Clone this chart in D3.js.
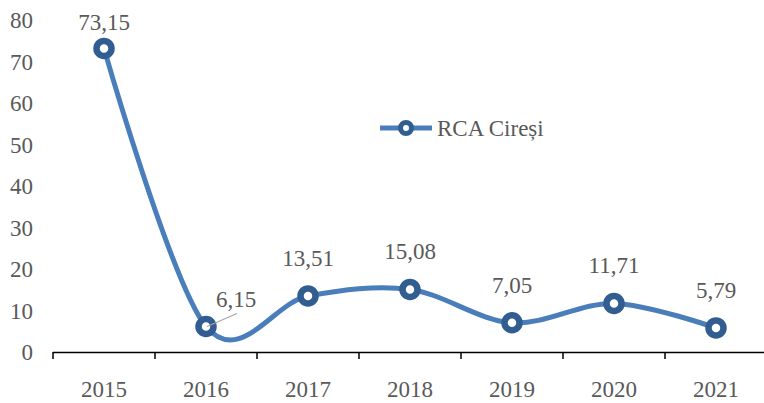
<!DOCTYPE html>
<html>
<head>
<meta charset="utf-8">
<script src="https://cdn.jsdelivr.net/npm/d3@7"></script>
<style>
	body { margin: 0; background: #fff; }
</style>
</head>
<body>
<div id="chart"></div>
<script>
const years = ['2015', '2016', '2017', '2018', '2019', '2020', '2021']
const rcaCiresi = [73.15, 6.15, 13.51, 15.08, 7.05, 11.71, 5.79]
const yTicks = [0, 10, 20, 30, 40, 50, 60, 70, 80]
const seriesName = 'RCA Cireși'

const width = 764
const height = 403
const fontSize = 23
const textColor = '#595959'
const lineColor = '#4a7ebb'
const markerColor = '#325d91'

const svg = d3.select('#chart').append('svg')
	.attr('width', width)
	.attr('height', height)
	.attr('font-family', "'Liberation Serif', 'Times New Roman', 'DejaVu Serif', serif")
	.attr('font-size', fontSize)
	.attr('fill', textColor)

const x = d3.scaleBand()
	.domain(years)
	.range([53, 767])

const y = d3.scaleLinear()
	.domain([0, 80])
	.range([352, 20])

const cx = d => x(d) + x.bandwidth() / 2
const fmt = v => d3.format('.2f')(v).replace('.', ',')

// y labels, no axis line
svg.append('g').selectAll('text')
	.data(yTicks)
	.enter()
	.append('text')
	.attr('x', 33)
	.attr('y', d => y(d))
	.attr('dy', '0.35em')
	.attr('text-anchor', 'end')
	.text(d => d)

// x axis
const xAxis = svg.append('g')
xAxis.append('line')
	.attr('x1', 53).attr('x2', 767)
	.attr('y1', 352.5).attr('y2', 352.5)
	.attr('stroke', '#000')
	.attr('stroke-width', 1.5)
xAxis.selectAll('line.tick')
	.data(years.concat(['end']))
	.enter()
	.append('line')
	.attr('class', 'tick')
	.attr('x1', (d, i) => 53 + i * x.step())
	.attr('x2', (d, i) => 53 + i * x.step())
	.attr('y1', 352).attr('y2', 359)
	.attr('stroke', '#000')
	.attr('stroke-width', 1.5)
xAxis.selectAll('text')
	.data(years)
	.enter()
	.append('text')
	.attr('x', cx)
	.attr('y', 389)
	.attr('dy', '0.35em')
	.attr('text-anchor', 'middle')
	.text(d => d)

const points = years.map((yr, i) => ({ year: yr, value: rcaCiresi[i] }))

const line = d3.line()
	.x(d => cx(d.year))
	.y(d => y(d.value))
	.curve(d3.curveCardinal.tension(0))

svg.append('path')
	.datum(points)
	.attr('d', line)
	.attr('fill', 'none')
	.attr('stroke', lineColor)
	.attr('stroke-width', 5)
	.attr('stroke-linejoin', 'round')

svg.append('g').selectAll('circle')
	.data(points)
	.enter()
	.append('circle')
	.attr('cx', d => cx(d.year))
	.attr('cy', d => y(d.value))
	.attr('r', 7.5)
	.attr('fill', '#fff')
	.attr('stroke', markerColor)
	.attr('stroke-width', 6.5)

// leader line for the 2016 label, drawn over the marker
svg.append('line')
	.attr('x1', cx('2016') + 1).attr('y1', y(6.15))
	.attr('x2', cx('2016') + 31).attr('y2', y(6.15) - 13)
	.attr('stroke', '#a6a6a6')
	.attr('stroke-width', 1.2)

const labelY = d => {
	if (d.year === '2016') return y(d.value) - 28
	if (d.year === '2015') return 22
	return y(d.value) - 38
}

svg.append('g').selectAll('text')
	.data(points)
	.enter()
	.append('text')
	.attr('x', d => d.year === '2016' ? cx(d.year) + 30 : cx(d.year))
	.attr('y', labelY)
	.attr('dy', '0.35em')
	.attr('text-anchor', 'middle')
	.text(d => fmt(d.value))

// legend
const legend = svg.append('g').attr('transform', 'translate(380,128)')
legend.append('line')
	.attr('x1', 0).attr('x2', 52)
	.attr('stroke', lineColor)
	.attr('stroke-width', 5)
legend.append('circle')
	.attr('cx', 26)
	.attr('r', 5.5)
	.attr('fill', '#fff')
	.attr('stroke', markerColor)
	.attr('stroke-width', 5)
legend.append('text')
	.attr('x', 57)
	.attr('dy', '0.35em')
	.text(seriesName)
</script>
</body>
</html>
